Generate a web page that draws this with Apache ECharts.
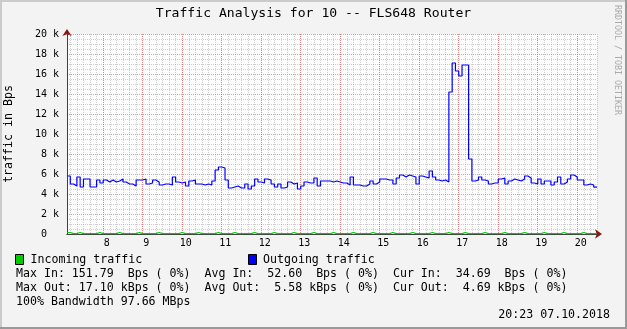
<!DOCTYPE html>
<html><head><meta charset="utf-8">
<script src="https://cdn.jsdelivr.net/npm/echarts@6/dist/echarts.min.js"></script>
<style>html,body{margin:0;padding:0;background:#F3F3F3}#c{width:627px;height:329px}</style>
</head><body><div id="c"></div>
<script>
// ---------- data ----------
const TITLE = 'Traffic Analysis for 10 -- FLS648 Router';
const Y_NAME = 'traffic in Bps';
const START_TIME = Date.UTC(2018, 9, 7, 7, 5);   // first sample
const END_TIME = Date.UTC(2018, 9, 7, 20, 30);   // right edge of the time axis
const STEP_MS = 5 * 60 * 1000;                   // 5-minute samples
const HOUR_MS = 60 * 60 * 1000;
const QUARTER_MS = 15 * 60 * 1000;
const Y_MAX = 20000;
const Y_STEP = 2000;

// Outgoing traffic, Bps (one value per 5 minutes)
const OUTGOING = [
  5800, 5000, 4800, 5700, 4700, 5500, 5500, 4700, 4700, 5400,
  5100, 5400, 5200, 5400, 5200, 5300, 5500, 5200, 5000, 5000,
  4800, 5400, 5400, 5500, 5000, 5100, 5400, 5200, 4900, 5000,
  5000, 4900, 5700, 5200, 5100, 5200, 4800, 5300, 5400, 5000,
  5000, 4900, 5000, 4900, 5300, 6400, 6700, 6600, 5400, 4600,
  4700, 4800, 4600, 4600, 5000, 4500, 4800, 5500, 5200, 5100,
  5500, 5400, 5000, 4700, 5000, 4600, 4700, 5200, 5000, 5100,
  4500, 4800, 5200, 5100, 5100, 5600, 4800, 5300, 5300, 5300,
  5200, 5300, 5200, 5100, 5100, 4900, 5700, 4900, 4900, 4800,
  4800, 5000, 5300, 5000, 5200, 5500, 5500, 5400, 5400, 5000,
  5600, 5900, 5700, 5900, 5800, 5700, 5000, 5800, 5700, 5600,
  6300, 5700, 5400, 5300, 5400, 5200, 14200, 17100, 16300, 15800,
  16900, 16900, 7500, 5300, 5400, 5700, 5400, 5300, 5000, 5100,
  5100, 5500, 5600, 5000, 5300, 5500, 5400, 5300, 5500, 5800,
  5600, 5100, 5000, 5500, 5000, 5300, 5300, 4900, 5200, 5700,
  5000, 5200, 5500, 5900, 5700, 5400, 5400, 4900, 5000, 4900,
  4690
];
// Incoming traffic, Bps
const INCOMING = [
  150, 35, 35, 148, 35, 35, 35, 35, 35, 150,
  35, 35, 35, 35, 35, 149, 35, 35, 35, 35,
  35, 150, 35, 35, 35, 35, 35, 148, 35, 35,
  35, 35, 35, 35, 150, 35, 35, 35, 35, 147,
  35, 35, 35, 35, 35, 150, 35, 35, 35, 35,
  152, 35, 35, 35, 35, 35, 150, 35, 35, 35,
  35, 35, 149, 35, 35, 35, 35, 35, 150, 35,
  35, 35, 35, 35, 148, 35, 35, 35, 35, 35,
  150, 35, 35, 35, 35, 35, 150, 35, 35, 35,
  35, 35, 149, 35, 35, 35, 35, 35, 150, 35,
  35, 35, 35, 35, 148, 35, 35, 35, 35, 35,
  150, 35, 35, 35, 35, 149, 35, 35, 35, 35,
  150, 35, 35, 35, 35, 35, 150, 35, 35, 35,
  35, 35, 148, 35, 35, 35, 35, 35, 150, 35,
  35, 35, 35, 35, 150, 35, 35, 35, 35, 35,
  149, 35, 35, 35, 35, 35, 150, 35, 35, 35,
  35
];
const LEGEND_IN = 'Incoming traffic';
const LEGEND_OUT = 'Outgoing traffic';
const STAT_LINES = [
  'Max In: 151.79  Bps ( 0%)  Avg In:  52.60  Bps ( 0%)  Cur In:  34.69  Bps ( 0%)',
  'Max Out: 17.10 kBps ( 0%)  Avg Out:  5.58 kBps ( 0%)  Cur Out:  4.69 kBps ( 0%)',
  '100% Bandwidth 97.66 MBps'
];
const DATE_TEXT = '20:23 07.10.2018';
const WATERMARK = 'RRDTOOL / TOBI OETIKER';

// ---------- build ----------
function toSeries(vals) {
  const d = vals.map((v, i) => [START_TIME + i * STEP_MS, v]);
  d.push([START_TIME + vals.length * STEP_MS, vals[vals.length - 1]]);
  return d;
}

const MONO = "'DejaVu Sans Mono', monospace";
const MAJOR_COLOR = 'rgba(230,90,90,0.6)';
const MINOR_COLOR = 'rgba(140,140,140,0.42)';
const majorLine = { color: MAJOR_COLOR, type: [1, 1], width: 1 };
const minorLine = { color: MINOR_COLOR, type: [1, 1], width: 1 };
const AXIS_COLOR = '#404040';
const ARROW_COLOR = '#8B1414';

const chart = echarts.init(document.getElementById('c'), null, { renderer: 'canvas' });
chart.setOption({
  animation: false,
  useUTC: true,
  backgroundColor: '#F3F3F3',
  grid: {
    left: 67, right: 30, top: 34, bottom: 95, containLabel: false, outerBoundsMode: 'none',
    show: true, backgroundColor: '#FDFDFD', borderWidth: 0
  },
  xAxis: [
    { // hour grid + labels
      type: 'time', min: START_TIME, max: END_TIME, position: 'bottom', z: 2,
      minInterval: HOUR_MS, maxInterval: HOUR_MS,
      axisLine: { show: true, onZero: false, lineStyle: { color: AXIS_COLOR, width: 1 } },
      axisTick: { show: false },
      axisLabel: {
        formatter: v => String(new Date(v).getUTCHours()),
        showMinLabel: false, showMaxLabel: false, hideOverlap: false,
        fontFamily: MONO, fontSize: 10, color: '#000', margin: 4, padding: [0, 0, 0, 7]
      },
      splitLine: { show: true, showMaxLine: false, lineStyle: majorLine }
    },
    { // quarter-hour grid
      type: 'time', min: START_TIME, max: END_TIME, position: 'bottom', z: 1,
      minInterval: QUARTER_MS, maxInterval: QUARTER_MS,
      axisLine: { show: false }, axisTick: { show: false }, axisLabel: { show: false },
      splitLine: { show: true, showMaxLine: false, lineStyle: minorLine }
    },
    { // arrow
      type: 'time', min: START_TIME, max: END_TIME, position: 'bottom', z: 1,
      axisLine: { show: true, onZero: false, symbol: ['none', 'arrow'], symbolSize: [7, 7], symbolOffset: [0, 5], lineStyle: { color: ARROW_COLOR, width: 1 } },
      axisTick: { show: false }, axisLabel: { show: false }, splitLine: { show: false }
    }
  ],
  yAxis: [
    {
      type: 'value', min: 0, max: Y_MAX, interval: Y_STEP, position: 'left', z: 2,
      name: Y_NAME, nameLocation: 'middle', nameGap: 52, nameRotate: 90, nameMoveOverlap: false,
      nameTextStyle: { fontFamily: MONO, fontSize: 11.6, color: '#000' },
      axisLine: { show: true, onZero: false, lineStyle: { color: AXIS_COLOR, width: 1 } },
      axisTick: { show: false },
      axisLabel: {
        formatter: v => v === 0 ? '{z|0}' : (v / 1000) + ' k',
        fontFamily: MONO, fontSize: 10, color: '#000', margin: 8,
        rich: { z: { fontFamily: MONO, fontSize: 10, color: '#000', width: 18, align: 'left' } }
      },
      splitLine: { show: true, lineStyle: majorLine },
      minorTick: { show: false, splitNumber: 4 },
      minorSplitLine: { show: true, lineStyle: minorLine }
    },
    {
      type: 'value', min: 0, max: Y_MAX, position: 'left', z: 1,
      axisLine: { show: true, onZero: false, symbol: ['none', 'arrow'], symbolSize: [7, 7], symbolOffset: [0, 5], lineStyle: { color: ARROW_COLOR, width: 1 } },
      axisTick: { show: false }, axisLabel: { show: false }, splitLine: { show: false }
    }
  ],
  series: [
    {
      type: 'line', name: LEGEND_IN, data: toSeries(INCOMING), step: 'end', showSymbol: false, z: 5,
      xAxisIndex: 0, yAxisIndex: 0,
      lineStyle: { color: '#00CC00', width: 1.2 }, itemStyle: { color: '#00CC00' }
    },
    {
      type: 'line', name: LEGEND_OUT, data: toSeries(OUTGOING), step: 'end', showSymbol: false, z: 6,
      xAxisIndex: 0, yAxisIndex: 0,
      lineStyle: { color: '#0000FF', width: 1.2 }, itemStyle: { color: '#0000FF' }
    }
  ],
  graphic: [
    // frame bevel
    { type: 'rect', shape: { x: 0, y: 0, width: 627, height: 2 }, style: { fill: '#CBCBCB' }, silent: true },
    { type: 'rect', shape: { x: 0, y: 0, width: 2, height: 329 }, style: { fill: '#CBCBCB' }, silent: true },
    { type: 'rect', shape: { x: 625, y: 0, width: 2, height: 329 }, style: { fill: '#999999' }, silent: true },
    { type: 'rect', shape: { x: 0, y: 327, width: 627, height: 2 }, style: { fill: '#999999' }, silent: true },
    // title
    { type: 'text', x: 313.5, y: 14, style: { text: TITLE, font: "13.1px " + MONO, fill: '#000', align: 'center', verticalAlign: 'middle' } },
    // watermark
    { type: 'text', x: 617, y: 60, rotation: -Math.PI / 2, style: { text: WATERMARK, font: "8.3px " + MONO, fill: '#AAAAAA', align: 'center', verticalAlign: 'middle' } },
    // legend
    { type: 'rect', shape: { x: 15.5, y: 254.5, width: 8, height: 10 }, style: { fill: '#00CC00', stroke: '#000', lineWidth: 1 } },
    { type: 'text', x: 30.5, y: 259.5, style: { text: LEGEND_IN, font: "11.6px " + MONO, fill: '#000', verticalAlign: 'middle' } },
    { type: 'rect', shape: { x: 248.5, y: 254.5, width: 8, height: 10 }, style: { fill: '#0000FF', stroke: '#000', lineWidth: 1 } },
    { type: 'text', x: 263, y: 259.5, style: { text: LEGEND_OUT, font: "11.6px " + MONO, fill: '#000', verticalAlign: 'middle' } },
    { type: 'text', x: 16, y: 273.5, style: { text: STAT_LINES[0], font: "11.6px " + MONO, fill: '#000', verticalAlign: 'middle' } },
    { type: 'text', x: 16, y: 287.5, style: { text: STAT_LINES[1], font: "11.6px " + MONO, fill: '#000', verticalAlign: 'middle' } },
    { type: 'text', x: 16, y: 301.5, style: { text: STAT_LINES[2], font: "11.6px " + MONO, fill: '#000', verticalAlign: 'middle' } },
    { type: 'text', x: 610, y: 315, style: { text: DATE_TEXT, font: "11.6px " + MONO, fill: '#000', align: 'right', verticalAlign: 'middle' } }
  ]
});
</script></body></html>
